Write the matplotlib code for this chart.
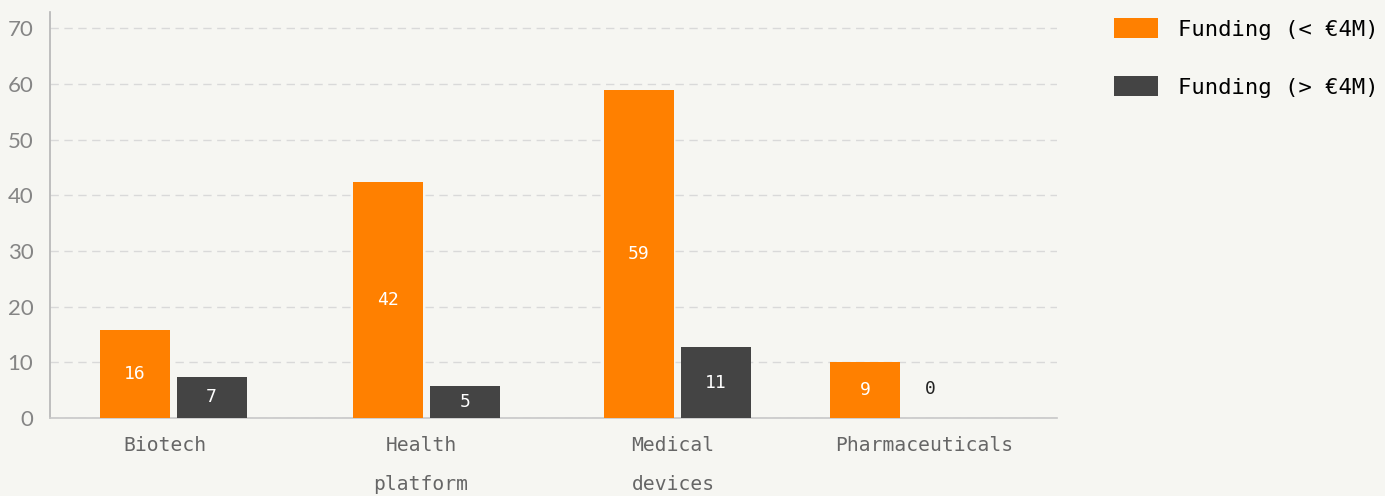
import numpy as np
import matplotlib.pyplot as plt

# data
categories = ['Biotech', 'Health\nplatform', 'Medical\ndevices', 'Pharmaceuticals']
small_heights = [15.8, 42.4, 58.9, 10.05]   # bar heights as drawn
large_heights = [7.4, 5.7, 12.7, 0]
small_labels = ['16', '42', '59', '9']       # printed values
large_labels = ['7', '5', '11', '0']
series_names = ['Funding (< €4M)', 'Funding (> €4M)']

bg = '#f6f6f2'
orange = '#ff8000'
dark = '#444444'

fig = plt.figure(figsize=(13.85, 4.96), dpi=100, facecolor=bg)
ax = fig.add_axes([50 / 1385, 78 / 496, 1007 / 1385, 406 / 496])
ax.set_facecolor(bg)

# layout in pixel-like units across the axes (50..1057)
group_x = np.array([173, 426.5, 677, 903.5])
tick_x = np.array([165, 421, 673, 924])
w = 70
off = 38.5

b1 = ax.bar(group_x - off, small_heights, w, color=orange, label=series_names[0], zorder=3)
b2 = ax.bar(group_x + off, large_heights, w, color=dark, label=series_names[1], zorder=3)

mono = 'DejaVu Sans Mono'
for bars, labels in [(b1, small_labels), (b2, large_labels)]:
    for r, lab in zip(bars, labels):
        h = r.get_height()
        cx = r.get_x() + r.get_width() / 2
        if h > 0:
            ax.text(cx, h / 2, lab, ha='center', va='center', color='white',
                    fontsize=13, family=mono, zorder=4)
        else:
            ax.text(cx - 12, 5.2, lab, ha='center', va='center', color='#222222',
                    fontsize=13, family=mono, zorder=4)

ax.set_xlim(50, 1057)
ax.set_ylim(0, 72.9)
ax.set_yticks(range(0, 71, 10))
ax.set_xticks(tick_x)
ax.set_xticklabels(categories, family=mono, fontsize=14.1, color='#666666', linespacing=2.3, va='top')
for t in ax.get_yticklabels():
    t.set_family('Lato')
    t.set_fontsize(16)
    t.set_color('#858585')
ax.tick_params(axis='both', length=0)
ax.tick_params(axis='y', pad=12)
ax.tick_params(axis='x', pad=13)

ax.grid(axis='y', color='#d9d9d9', linestyle=(0, (6, 4)), linewidth=1, zorder=0)
for s in ['top', 'right']:
    ax.spines[s].set_visible(False)
ax.spines['left'].set_color('#b5b5b5')
ax.spines['bottom'].set_color('#c8c8c8')
ax.spines['left'].set_linewidth(1.2)
ax.spines['bottom'].set_linewidth(1.2)

leg = fig.legend(loc='upper left', bbox_to_anchor=(1094 / 1385, 1 + 2 / 496), frameon=False,
                 prop={'family': mono, 'size': 16}, handlelength=2.0, handleheight=1.0,
                 labelspacing=1.65, handletextpad=0.9)

fig.savefig('out.png', dpi=100, facecolor=bg)
